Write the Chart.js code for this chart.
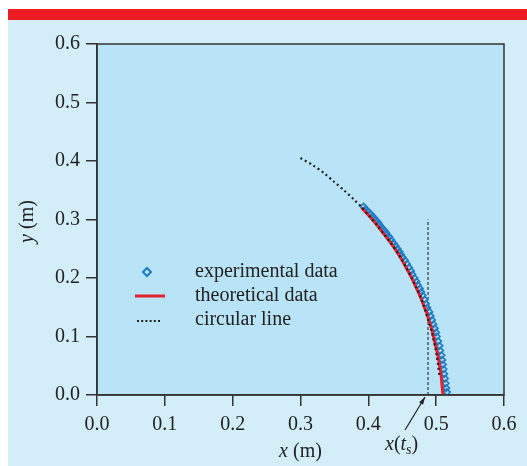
<!DOCTYPE html>
<html><head><meta charset="utf-8">
<script src="https://cdn.jsdelivr.net/npm/chart.js@4/dist/chart.umd.min.js"></script>
<style>
html,body{margin:0;padding:0;background:#fff;width:527px;height:466px;overflow:hidden}
#band{position:absolute;left:8px;top:9px;width:519px;height:11px;background:#ed1c24}
#panel{position:absolute;left:8px;top:20px;width:519px;height:446px;background:#d3edf9}
canvas{display:block}
</style></head><body>
<div id="band"></div>
<div id="panel"><canvas id="c" width="519" height="446"></canvas></div>
<script>
// Experimental data (blue diamonds)
const expX = [0.393,0.396,0.399,0.403,0.406,0.409,0.412,0.415,0.417,0.420,0.423,0.426,0.428,0.431,0.434,0.437,0.440,0.443,0.446,0.448,0.451,0.454,0.457,0.460,0.463,0.465,0.468,0.471,0.473,0.476,0.478,0.480,0.483,0.485,0.487,0.490,0.492,0.494,0.496,0.498,0.500,0.501,0.503,0.505,0.506,0.508,0.509,0.510,0.511,0.512,0.513,0.514,0.515,0.516];
const expY = [0.322,0.318,0.314,0.310,0.306,0.302,0.298,0.294,0.290,0.286,0.282,0.278,0.274,0.270,0.265,0.260,0.255,0.250,0.245,0.240,0.235,0.230,0.224,0.218,0.212,0.206,0.200,0.194,0.188,0.182,0.176,0.170,0.163,0.156,0.149,0.142,0.135,0.128,0.121,0.114,0.107,0.100,0.092,0.084,0.076,0.068,0.060,0.052,0.044,0.036,0.028,0.020,0.012,0.005];
// Theoretical data (red line)
const theoX = [0.390,0.402,0.413,0.423,0.433,0.442,0.450,0.457,0.464,0.470,0.476,0.481,0.486,0.490,0.494,0.497,0.500,0.503,0.505,0.507,0.508,0.509,0.510];
const theoY = [0.320,0.305,0.290,0.275,0.260,0.245,0.230,0.215,0.200,0.185,0.170,0.155,0.140,0.125,0.110,0.095,0.080,0.065,0.050,0.037,0.025,0.012,0.000];
// Circular line (black dotted)
const circX = [0.300,0.318,0.334,0.349,0.364,0.378,0.391,0.402,0.413,0.423,0.433,0.442,0.450,0.457,0.464,0.470,0.476,0.481,0.485,0.489,0.493,0.496,0.499,0.501,0.503,0.504,0.505];
const circY = [0.405,0.393,0.380,0.365,0.350,0.335,0.320,0.305,0.290,0.275,0.260,0.245,0.230,0.215,0.200,0.185,0.170,0.155,0.140,0.125,0.110,0.095,0.080,0.065,0.050,0.040,0.030];
// x(t_s) marker
const tsX = [0.488,0.488];
const tsY = [0.000,0.300];
const xTicks = ['0.0','0.1','0.2','0.3','0.4','0.5','0.6'];
const yTicks = ['0.0','0.1','0.2','0.3','0.4','0.5','0.6'];
const legendLabels = ['experimental data','theoretical data','circular line'];

const pts = (xs, ys) => xs.map((x, i) => ({x: x, y: ys[i]}));
const SERIF = '"Liberation Serif","DejaVu Serif",serif';
const FS = 20;
const BLUE = '#1b7cc4', RED = '#e8202a', DARK = '#222';

const bgPlugin = {
  id: 'bg',
  beforeDraw(chart) {
    const {ctx, chartArea: a} = chart;
    ctx.save();
    ctx.fillStyle = '#b9e3f7';
    ctx.fillRect(a.left, a.top, a.right - a.left, a.bottom - a.top);
    ctx.restore();
  },
  afterDraw(chart) {
    const {ctx, chartArea: a} = chart;
    ctx.save();
    ctx.strokeStyle = '#333';
    ctx.lineWidth = 1.5;
    ctx.strokeRect(a.left, a.top, a.right - a.left, a.bottom - a.top);

    // legend
    const lx = a.left, ly = a.top;
    ctx.font = FS + 'px ' + SERIF;
    ctx.fillStyle = DARK;
    ctx.textBaseline = 'middle';
    ctx.textAlign = 'left';
    const rows = [ly + 228, ly + 252, ly + 276];
    legendLabels.forEach((t, i) => ctx.fillText(t, lx + 98, rows[i]));
    // diamond
    ctx.strokeStyle = BLUE; ctx.lineWidth = 2;
    ctx.beginPath();
    const dx = lx + 50, dy = rows[0];
    ctx.moveTo(dx, dy - 4); ctx.lineTo(dx + 4, dy); ctx.lineTo(dx, dy + 4); ctx.lineTo(dx - 4, dy); ctx.closePath();
    ctx.stroke();
    // red line
    ctx.strokeStyle = RED; ctx.lineWidth = 3;
    ctx.beginPath(); ctx.moveTo(lx + 38, rows[1]); ctx.lineTo(lx + 68, rows[1]); ctx.stroke();
    // dotted
    ctx.strokeStyle = DARK; ctx.lineWidth = 2; ctx.setLineDash([2, 2.2]);
    ctx.beginPath(); ctx.moveTo(lx + 40, rows[2] + 1); ctx.lineTo(lx + 64, rows[2] + 1); ctx.stroke();
    ctx.setLineDash([]);

    // axis titles
    const xs = chart.scales.x;
    ctx.textBaseline = 'middle';
    function mixed(parts, cx, cy) {
      let w = 0;
      parts.forEach(p => { ctx.font = p[1] + FS + 'px ' + SERIF; w += ctx.measureText(p[0]).width; });
      let x = cx - w / 2;
      parts.forEach(p => { ctx.font = p[1] + FS + 'px ' + SERIF; ctx.fillText(p[0], x, cy); x += ctx.measureText(p[0]).width; });
    }
    ctx.fillStyle = DARK;
    mixed([['x', 'italic '], [' (m)', '']], (a.left + a.right) / 2, a.bottom + 57);
    ctx.save();
    ctx.translate(a.left - 69, (a.top + a.bottom) / 2 + 2);
    ctx.rotate(-Math.PI / 2);
    mixed([['y', 'italic '], [' (m)', '']], 0, 0);
    ctx.restore();

    // x(t_s) annotation with arrow
    const tipX = xs.getPixelForValue(tsX[0]) - 3, tipY = a.bottom + 2;
    const tailX = tipX - 20, tailY = tipY + 33;
    ctx.strokeStyle = DARK; ctx.lineWidth = 1.2;
    ctx.beginPath(); ctx.moveTo(tailX, tailY); ctx.lineTo(tipX, tipY); ctx.stroke();
    const ang = Math.atan2(tipY - tailY, tipX - tailX);
    ctx.fillStyle = DARK;
    ctx.beginPath();
    ctx.moveTo(tipX, tipY);
    ctx.lineTo(tipX - 8 * Math.cos(ang - 0.3), tipY - 8 * Math.sin(ang - 0.3));
    ctx.lineTo(tipX - 8 * Math.cos(ang + 0.3), tipY - 8 * Math.sin(ang + 0.3));
    ctx.closePath(); ctx.fill();
    // label
    let tx = tailX - 20, ty = tailY + 15;
    ctx.textAlign = 'left';
    ctx.font = 'italic ' + FS + 'px ' + SERIF; ctx.fillText('x', tx, ty); tx += ctx.measureText('x').width;
    ctx.font = FS + 'px ' + SERIF; ctx.fillText('(', tx, ty); tx += ctx.measureText('(').width;
    ctx.font = 'italic ' + FS + 'px ' + SERIF; ctx.fillText('t', tx, ty); tx += ctx.measureText('t').width;
    ctx.font = 'italic 14px ' + SERIF; ctx.fillText('s', tx, ty + 5); tx += ctx.measureText('s').width;
    ctx.font = FS + 'px ' + SERIF; ctx.fillText(')', tx, ty);
    ctx.restore();
  }
};

new Chart(document.getElementById('c'), {
  type: 'scatter',
  data: {
    datasets: [
      {label: legendLabels[0], data: pts(expX, expY), pointStyle: 'rectRot', pointRadius: 3.2, borderColor: BLUE, backgroundColor: 'rgba(0,0,0,0)', pointBorderWidth: 1.6, showLine: false, order: 3},
      {label: legendLabels[1], data: pts(theoX, theoY), showLine: true, borderColor: RED, borderWidth: 3, pointRadius: 0, tension: 0.3, order: 2},
      {label: legendLabels[2], data: pts(circX, circY), showLine: true, borderColor: DARK, borderWidth: 2.2, borderDash: [2, 3], pointRadius: 0, tension: 0.3, order: 1},
      {label: 'ts', data: pts(tsX, tsY), showLine: true, borderColor: '#4a5864', borderWidth: 1.5, borderDash: [3, 2], pointRadius: 0, order: 4}
    ]
  },
  options: {
    responsive: false,
    animation: false,
    events: [],
    layout: {padding: {left: 0, right: 23, top: 24, bottom: 0}},
    plugins: {legend: {display: false}, tooltip: {enabled: false}},
    scales: {
      x: {
        type: 'linear', min: 0, max: 0.6,
        afterFit(s) { s.height = 71; },
        ticks: {stepSize: 0.1, autoSkip: false, maxRotation: 0, padding: 7, color: DARK,
          font: {family: SERIF, size: FS},
          callback: (v) => xTicks[Math.round(v * 10)]},
        grid: {drawOnChartArea: false, drawTicks: true, tickLength: 11, color: '#333', lineWidth: 1.5},
        border: {color: '#333', width: 1.5}
      },
      y: {
        type: 'linear', min: 0, max: 0.6,
        afterFit(s) { s.width = 89; },
        ticks: {stepSize: 0.1, autoSkip: false, padding: 6, color: DARK,
          font: {family: SERIF, size: FS},
          callback: (v) => yTicks[Math.round(v * 10)]},
        grid: {drawOnChartArea: false, drawTicks: true, tickLength: 11, color: '#333', lineWidth: 1.5},
        border: {color: '#333', width: 1.5}
      }
    }
  },
  plugins: [bgPlugin]
});
</script>
</body></html>
